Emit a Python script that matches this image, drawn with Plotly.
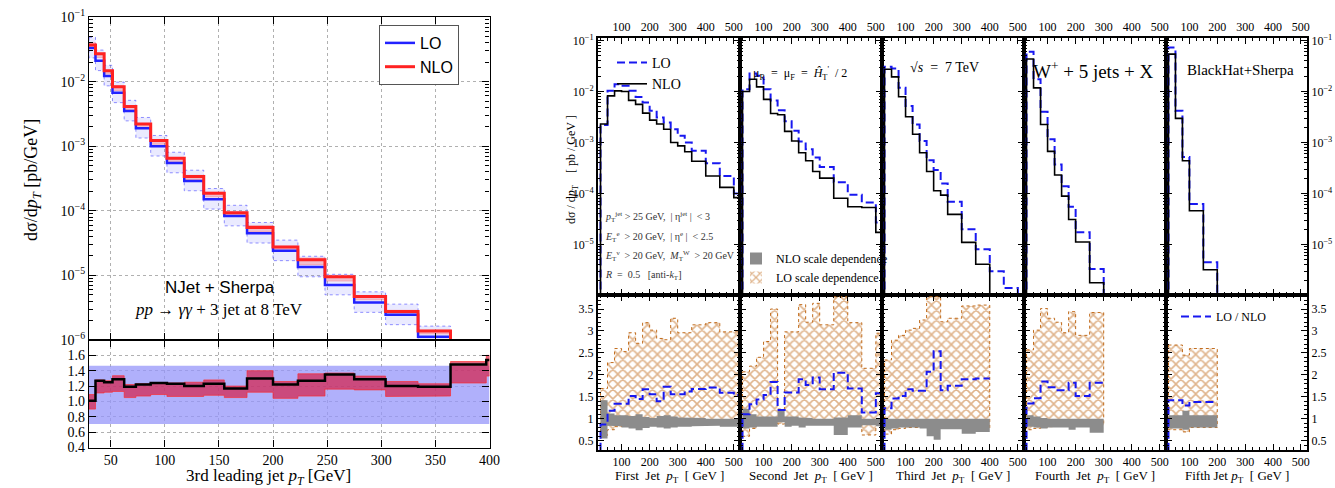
import plotly.graph_objects as go

W, H = 1335, 488
SERIF = "Liberation Serif"
SANS = "Liberation Sans"

# ---------------- left figure: NJet + Sherpa ----------------
L_EDGES = [30, 36, 44, 51.7, 62.5, 73.3, 87, 102, 118, 136, 155, 176, 200, 223, 248, 275, 304, 334, 364, 397, 400]
L_NLO = [0.037, 0.027, 0.0147, 0.0083, 0.0041, 0.0022, 0.00122, 0.00065, 0.00034, 0.000187,
         9.3e-5, 5.5e-5, 2.75e-5, 1.74e-5, 9.5e-6, 4.7e-6, 2.75e-6, 1.38e-6, 7.5e-7, 6.5e-7]
L_LO = [0.033, 0.021, 0.0122, 0.0067, 0.0035, 0.0019, 0.00100, 0.00055, 0.00029, 0.000151,
        8.3e-5, 4.5e-5, 2.4e-5, 1.35e-5, 7.1e-6, 3.8e-6, 2.45e-6, 1.12e-6, 5.1e-7, 4.3e-7]
L_K = [1.01, 1.27, 1.25, 1.29, 1.19, 1.22, 1.24, 1.23, 1.20, 1.23, 1.17, 1.30, 1.22, 1.27, 1.35, 1.29, 1.20, 1.19, 1.48, 1.54]
L_K_HI = [1.09, 1.28, 1.27, 1.335, 1.22, 1.23, 1.24, 1.24, 1.25, 1.28, 1.20, 1.40, 1.26, 1.36, 1.37, 1.33, 1.26, 1.23, 1.52, 1.60]
L_K_LO = [0.90, 1.11, 1.12, 1.13, 1.05, 1.07, 1.09, 1.065, 1.065, 1.08, 1.05, 1.12, 1.04, 1.07, 1.16, 1.15, 1.065, 1.07, 1.24, 1.33]
LO_SCALE_UP = 1.465
LO_SCALE_DN = 0.705

# ---------------- right figure: BlackHat + Sherpa W+5 jets ----------------
P1_EDGES = [25, 50, 75, 100, 125, 150, 175, 200, 225, 250, 275, 300, 325, 350, 400, 450, 500, 525]
P1_NLO = [2.3e-3, 8.2e-3, 1.03e-2, 1.0e-2, 6.7e-3, 5.6e-3, 3.76e-3, 2.75e-3, 2.3e-3, 1.82e-3, 1.0e-3, 8.6e-4, 6.6e-4, 4.3e-4, 2.2e-4, 1.32e-4, 8.3e-5]
P1_LO = [2.2e-3, 1.03e-2, 1.39e-2, 1.29e-2, 1.03e-2, 7.8e-3, 6.1e-3, 4.2e-3, 3.1e-3, 2.46e-3, 1.82e-3, 1.35e-3, 1.0e-3, 6.9e-4, 3.9e-4, 2.2e-4, 1.0e-4]
P1_RATIO = [0.87, 1.18, 1.34, 1.34, 1.52, 1.45, 1.67, 1.56, 1.40, 1.73, 1.56, 1.56, 1.62, 1.68, 1.71, 1.59, 1.54]
P1_LOBAND_UP = [1.69, 2.28, 2.6, 2.53, 2.96, 2.72, 3.19, 3.02, 2.83, 2.8, 3.29, 2.96, 2.96, 3.14, 3.19, 2.98, 2.98]
P1_LOBAND_DN = [0.62, 0.75, 0.82, 0.85, 0.88, 0.85, 0.9, 0.9, 0.88, 0.85, 0.88, 0.9, 0.92, 0.92, 0.9, 0.9, 0.88]
P1_NLOBAND_UP = [1.42, 1.12, 1.08, 1.08, 1.06, 1.1, 1.04, 1.02, 1.06, 1.08, 1.05, 1.03, 1.03, 1.02, 1.0, 1.0, 1.0]
P1_NLOBAND_DN = [0.55, 0.84, 0.83, 0.8, 0.78, 0.74, 0.79, 0.82, 0.8, 0.78, 0.8, 0.82, 0.82, 0.83, 0.84, 0.82, 0.82]

P2_EDGES = [25, 50, 75, 100, 125, 150, 175, 200, 225, 250, 275, 300, 325, 350, 400, 450, 500, 525]
P2_NLO = [1.0e-2, 1.74e-2, 1.23e-2, 7.0e-3, 3.7e-3, 3.5e-3, 1.65e-3, 1.07e-3, 6.3e-4, 4.4e-4, 2.7e-4, 2.0e-4, 2.0e-4, 8.1e-5, 5.5e-5, 5.3e-5, 1.73e-5]
P2_LO = [1.11e-2, 2.25e-2, 2.03e-2, 1.11e-2, 6.7e-3, 4.3e-3, 2.6e-3, 1.7e-3, 1.05e-3, 7.4e-4, 5.1e-4, 3.3e-4, 3.3e-4, 1.66e-4, 9.5e-5, 6.7e-5, 2.7e-5]
P2_RATIO = [1.1, 1.33, 1.44, 1.54, 1.84, 1.2, 1.6, 1.6, 1.9, 1.77, 1.94, 1.67, 1.67, 2.05, 1.69, 1.14, 1.58]
P2_LOBAND_UP = [2.07, 2.2, 2.4, 2.76, 3.5, 1.22, 2.98, 2.98, 3.6, 3.2, 3.63, 3.14, 3.14, 3.78, 3.19, 2.15, 2.95]
P2_LOBAND_DN = [0.6, 0.78, 0.85, 0.88, 0.9, 0.88, 0.9, 0.88, 0.88, 0.9, 0.9, 0.88, 0.9, 0.9, 0.9, 0.63, 0.85]
P2_NLOBAND_UP = [1.23, 1.1, 1.05, 1.05, 1.05, 1.2, 1.05, 1.05, 1.03, 1.02, 1.0, 1.0, 1.0, 1.03, 1.08, 1.0, 1.02]
P2_NLOBAND_DN = [0.78, 0.8, 0.82, 0.82, 0.82, 0.92, 0.82, 0.84, 0.8, 0.84, 0.83, 0.84, 0.84, 0.63, 0.8, 0.85, 0.83]

P3_EDGES = [25, 50, 75, 100, 125, 150, 175, 200, 225, 250, 300, 350, 400, 450, 500]
P3_NLO = [0.0274, 0.0194, 7.9e-3, 3.2e-3, 1.45e-3, 6.3e-4, 2.7e-4, 1.13e-4, 9.3e-5, 3.9e-5, 1.1e-5, 4.1e-6]
P3_LO = [0.0305, 0.0283, 0.0118, 5.2e-3, 2.25e-3, 1.07e-3, 4.5e-4, 2.9e-4, 1.58e-4, 6.9e-5, 2.0e-5, 8.1e-6, 3.0e-6, 1.4e-6]
P3_RATIO = [1.24, 1.46, 1.52, 1.67, 1.64, 1.64, 2.07, 2.54, 1.65, 1.75, 1.9, 1.92]
P3_LOBAND_UP = [2.34, 2.79, 2.9, 3.02, 3.06, 3.25, 3.78, 3.78, 3.21, 3.29, 3.57, 3.59]
P3_LOBAND_DN = [0.65, 0.75, 0.78, 0.8, 0.8, 0.8, 0.8, 0.8, 0.78, 0.78, 0.8, 0.78]
P3_NLOBAND_UP = [1.0, 1.0, 1.0, 1.0, 1.0, 1.0, 1.0, 1.0, 1.0, 1.0, 1.0, 1.0]
P3_NLOBAND_DN = [0.75, 0.78, 0.8, 0.8, 0.8, 0.78, 0.6, 0.52, 0.76, 0.76, 0.66, 0.7]

P4_EDGES = [25, 50, 75, 100, 125, 150, 175, 200, 250, 300]
P4_NLO = [0.0434, 0.0118, 2.25e-3, 6.7e-4, 2.3e-4, 8.9e-5, 3.1e-5, 1.12e-5, 1.78e-6]
P4_LO = [0.060, 0.0174, 4.0e-3, 1.16e-3, 3.7e-4, 1.38e-4, 5.5e-5, 1.73e-5, 3.3e-6]
P4_RATIO = [1.35, 1.47, 1.85, 1.72, 1.65, 1.65, 1.82, 1.52, 1.82]
P4_LOBAND_UP = [2.57, 3.02, 3.51, 3.29, 3.2, 2.96, 3.44, 2.9, 3.42]
P4_LOBAND_DN = [0.75, 0.78, 0.8, 0.82, 0.85, 0.85, 0.82, 0.85, 0.85]
P4_NLOBAND_UP = [1.08, 1.05, 1.02, 1.0, 1.0, 1.0, 1.0, 1.0, 1.0]
P4_NLOBAND_DN = [0.82, 0.8, 0.78, 0.8, 0.8, 0.8, 0.75, 0.8, 0.68]

P5_EDGES = [25, 50, 75, 100, 150, 200]
P5_NLO = [0.054, 2.97e-3, 4.4e-4, 4.6e-5, 3.2e-6]
P5_LO = [0.073, 4.2e-3, 5.2e-4, 6.2e-5, 4.5e-6]
P5_RATIO = [1.42, 1.42, 1.3, 1.38, 1.38]
P5_LOBAND_UP = [2.68, 2.68, 2.45, 2.6, 2.6]
P5_LOBAND_DN = [0.75, 0.75, 0.7, 0.8, 0.8]
P5_NLOBAND_UP = [1.08, 1.08, 1.18, 1.08, 1.08]
P5_NLOBAND_DN = [0.78, 0.78, 0.75, 0.8, 0.8]

PANEL_TITLES = ["First  Jet  <i>p</i><sub>T</sub>  [ GeV ]", "Second  Jet  <i>p</i><sub>T</sub>  [ GeV ]",
                "Third  Jet  <i>p</i><sub>T</sub>  [ GeV ]", "Fourth  Jet  <i>p</i><sub>T</sub>  [ GeV ]",
                "Fifth Jet <i>p</i><sub>T</sub>  [ GeV ]"]

LOG_FLOOR = 1e-8
RATIO_FLOOR = 0.0


def steps(edges, vals, start=None, end=None):
    xs, ys = [], []
    if start is not None:
        xs.append(edges[0]); ys.append(start)
    for i, v in enumerate(vals):
        xs += [edges[i], edges[i + 1]]
        ys += [v, v]
    if end is not None:
        xs.append(edges[len(vals)]); ys.append(end)
    return xs, ys


def band(edges, lo, hi):
    xs, ys = [], []
    for i in range(len(lo)):
        xs += [edges[i], edges[i + 1]]
        ys += [hi[i], hi[i]]
    for i in reversed(range(len(lo))):
        xs += [edges[i + 1], edges[i]]
        ys += [lo[i], lo[i]]
    xs.append(xs[0]); ys.append(ys[0])
    return xs, ys


fig = go.Figure()

# ---- left top panel ----
n = len(L_LO)
bx, by = band(L_EDGES, [v * LO_SCALE_DN for v in L_LO], [v * LO_SCALE_UP for v in L_LO])
fig.add_trace(go.Scatter(x=bx, y=by, xaxis="x", yaxis="y", mode="lines", fill="toself",
                         fillcolor="rgba(90,90,255,0.13)", line=dict(color="rgba(60,60,255,0.7)", width=0.8, dash="dot"),
                         showlegend=False, hoverinfo="skip"))
bx, by = band(L_EDGES, [L_NLO[i] * L_K_LO[i] / L_K[i] for i in range(n)], [L_NLO[i] * L_K_HI[i] / L_K[i] for i in range(n)])
fig.add_trace(go.Scatter(x=bx, y=by, xaxis="x", yaxis="y", mode="lines", fill="toself",
                         fillcolor="rgba(255,60,60,0.25)", line=dict(color="rgba(255,80,80,0.5)", width=0.6),
                         showlegend=False, hoverinfo="skip"))
sx, sy = steps(L_EDGES, L_LO)
fig.add_trace(go.Scatter(x=sx, y=sy, xaxis="x", yaxis="y", mode="lines", name="LO",
                         line=dict(color="#2222ff", width=2.5), legend="legend"))
sx, sy = steps(L_EDGES, L_NLO)
fig.add_trace(go.Scatter(x=sx, y=sy, xaxis="x", yaxis="y", mode="lines", name="NLO",
                         line=dict(color="#ff2222", width=3), legend="legend"))

# ---- left ratio panel ----
bx, by = band(L_EDGES, [LO_SCALE_DN] * n, [LO_SCALE_UP] * n)
fig.add_trace(go.Scatter(x=bx, y=by, xaxis="x2", yaxis="y2", mode="lines", fill="toself",
                         fillcolor="rgba(150,150,250,0.75)", line=dict(width=0),
                         showlegend=False, hoverinfo="skip"))
bx, by = band(L_EDGES, L_K_LO, L_K_HI)
fig.add_trace(go.Scatter(x=bx, y=by, xaxis="x2", yaxis="y2", mode="lines", fill="toself",
                         fillcolor="rgba(215,25,65,0.68)", line=dict(color="rgba(255,40,40,0.8)", width=0.8),
                         showlegend=False, hoverinfo="skip"))
sx, sy = steps(L_EDGES, L_K)
fig.add_trace(go.Scatter(x=sx, y=sy, xaxis="x2", yaxis="y2", mode="lines",
                         line=dict(color="black", width=2.5), showlegend=False))

# ---- right panels ----
PANELS = [
    (P1_EDGES, P1_NLO, P1_LO, P1_RATIO, P1_LOBAND_UP, P1_LOBAND_DN, P1_NLOBAND_UP, P1_NLOBAND_DN),
    (P2_EDGES, P2_NLO, P2_LO, P2_RATIO, P2_LOBAND_UP, P2_LOBAND_DN, P2_NLOBAND_UP, P2_NLOBAND_DN),
    (P3_EDGES, P3_NLO, P3_LO, P3_RATIO, P3_LOBAND_UP, P3_LOBAND_DN, P3_NLOBAND_UP, P3_NLOBAND_DN),
    (P4_EDGES, P4_NLO, P4_LO, P4_RATIO, P4_LOBAND_UP, P4_LOBAND_DN, P4_NLOBAND_UP, P4_NLOBAND_DN),
    (P5_EDGES, P5_NLO, P5_LO, P5_RATIO, P5_LOBAND_UP, P5_LOBAND_DN, P5_NLOBAND_UP, P5_NLOBAND_DN),
]
BLUE = "#1818f0"
HATCH = "#c06a1a"
GRAY = "#8c8c8c"
HATCH_PATTERN = dict(shape="x", fgcolor=HATCH, bgcolor="rgba(255,255,255,0)", size=7, solidity=0.4)
for i, (edges, nlo, lo, ratio, lup, ldn, nup, ndn) in enumerate(PANELS):
    xt, yt = "x%d" % (3 + 2 * i), "y%d" % (3 + 2 * i)
    xb, yb = "x%d" % (4 + 2 * i), "y%d" % (4 + 2 * i)
    sx, sy = steps(edges, lo, LOG_FLOOR, LOG_FLOOR)
    fig.add_trace(go.Scatter(x=sx, y=sy, xaxis=xt, yaxis=yt, mode="lines", name="LO",
                             line=dict(color=BLUE, width=2, dash="8px,4px"),
                             showlegend=(i == 0), legend="legend2"))
    sx, sy = steps(edges, nlo, LOG_FLOOR, LOG_FLOOR)
    fig.add_trace(go.Scatter(x=sx, y=sy, xaxis=xt, yaxis=yt, mode="lines", name="NLO",
                             line=dict(color="black", width=1.6),
                             showlegend=(i == 0), legend="legend2"))
    bx, by = band(edges, ldn, lup)
    fig.add_trace(go.Scatter(x=bx, y=by, xaxis=xb, yaxis=yb, mode="lines", fill="toself",
                             fillcolor="rgba(0,0,0,0)", fillpattern=HATCH_PATTERN,
                             line=dict(color=HATCH, width=1, dash="dot"),
                             showlegend=False, hoverinfo="skip"))
    bx, by = band(edges, ndn, nup)
    fig.add_trace(go.Scatter(x=bx, y=by, xaxis=xb, yaxis=yb, mode="lines", fill="toself",
                             fillcolor=GRAY, line=dict(width=0, color=GRAY),
                             showlegend=False, hoverinfo="skip"))
    sx, sy = steps(edges, ratio, RATIO_FLOOR, None)
    fig.add_trace(go.Scatter(x=sx, y=sy, xaxis=xb, yaxis=yb, mode="lines", name="LO / NLO",
                             line=dict(color=BLUE, width=2, dash="8px,4px"),
                             showlegend=(i == 4), legend="legend4"))

# legend keys for the scale-dependence bands
fig.add_trace(go.Bar(x=[None], y=[None], xaxis="x6", yaxis="y6", name="NLO scale dependence",
                     marker=dict(color=GRAY, line=dict(width=0)), legend="legend3"))
fig.add_trace(go.Bar(x=[None], y=[None], xaxis="x6", yaxis="y6", name="LO scale dependence",
                     marker=dict(color="rgba(0,0,0,0)", line=dict(width=0), pattern=HATCH_PATTERN), legend="legend3"))

layout = dict(
    width=W, height=H, margin=dict(l=0, r=0, t=0, b=0, autoexpand=False),
    paper_bgcolor="white", plot_bgcolor="rgba(0,0,0,0)",
    font=dict(family=SERIF, color="black"),
)


def px(x):
    return x / W


def py(y):
    return 1 - y / H


LOG_MINOR = [m * 10.0 ** e for e in range(-7, 0) for m in range(2, 10)]
DECADES = [10.0 ** e for e in range(-6, 0)]
DEC_TEXT = ["10<sup>\u2212%d</sup>" % k for k in range(6, 0, -1)]

common_left = dict(showline=True, linecolor="black", linewidth=1.3, mirror="allticks", ticks="inside",
                   ticklen=7, tickcolor="black", zeroline=False, automargin=False,
                   showgrid=True, gridcolor="#b0b0b0", griddash="dot", gridwidth=1,
                   tickfont=dict(family=SERIF, size=14))
layout["xaxis"] = dict(common_left, domain=[px(89), px(489.5)], range=[30, 400], anchor="y",
                       tickvals=[50, 100, 150, 200, 250, 300, 350, 400], showticklabels=False)
layout["yaxis"] = dict(common_left, domain=[py(340), py(17)], type="log", range=[-6, -1], anchor="x",
                       tickvals=DECADES, ticktext=DEC_TEXT,
                       minor=dict(ticks="inside", ticklen=4, tickcolor="black", tickvals=LOG_MINOR, showgrid=False))
layout["xaxis2"] = dict(common_left, domain=[px(89), px(489.5)], range=[30, 400], anchor="y2", matches="x",
                        tickvals=[50, 100, 150, 200, 250, 300, 350, 400])
layout["yaxis2"] = dict(common_left, domain=[py(447.5), py(340)], range=[0.4, 1.8], anchor="x2",
                        tickvals=[0.4, 0.6, 0.8, 1.0, 1.2, 1.4, 1.6], tickformat=".1f")

BOUNDS = [598, 740, 882, 1024, 1166, 1307]
DEC_R = [10.0 ** e for e in range(-5, 0)]
DEC_R_TEXT = ["10<sup>\u2212%d</sup>" % k for k in range(5, 0, -1)]
common_right = dict(showline=True, linecolor="black", linewidth=2, mirror="allticks", ticks="inside",
                    ticklen=6, tickcolor="black", tickwidth=1.2, zeroline=False, showgrid=False, automargin=False,
                    tickfont=dict(family=SERIF, size=12))
for i in range(5):
    dom = [px(BOUNDS[i]), px(BOUNDS[i + 1])]
    xt, yt, xb, yb = 3 + 2 * i, 3 + 2 * i, 4 + 2 * i, 4 + 2 * i
    layout["xaxis%d" % xt] = dict(common_right, domain=dom, range=[16, 522], anchor="y%d" % yt, side="top",
                                  tickvals=[100, 200, 300, 400, 500],
                                  minor=dict(ticks="inside", ticklen=3, tickcolor="black", dtick=25, tick0=0))
    layout["xaxis%d" % xb] = dict(common_right, domain=dom, range=[16, 522], anchor="y%d" % yb, side="bottom",
                                  tickvals=[100, 200, 300, 400, 500], matches="x%d" % xt,
                                  minor=dict(ticks="inside", ticklen=3, tickcolor="black", dtick=25, tick0=0))
    ylog = dict(common_right, domain=[py(295), py(37.7)], type="log", range=[-5.99, -0.945],
                anchor="x%d" % xt, tickvals=DEC_R, ticktext=DEC_R_TEXT,
                minor=dict(ticks="inside", ticklen=3, tickcolor="black", tickvals=LOG_MINOR))
    ylin = dict(common_right, domain=[py(450), py(295)], range=[0.288, 3.82], anchor="x%d" % xb,
                tickvals=[0.5, 1, 1.5, 2, 2.5, 3, 3.5],
                minor=dict(ticks="inside", ticklen=3, tickcolor="black", dtick=0.1, tick0=0))
    if i == 0:
        ylog["side"] = "left"; ylin["side"] = "left"
    elif i == 4:
        ylog["side"] = "right"; ylin["side"] = "right"
    else:
        ylog["showticklabels"] = False; ylin["showticklabels"] = False
    layout["yaxis%d" % yt] = ylog
    layout["yaxis%d" % yb] = ylin

layout["legend"] = dict(x=px(379), y=py(25), xanchor="left", yanchor="top", bgcolor="white",
                        bordercolor="#555", borderwidth=1, font=dict(family=SANS, size=16))
layout["legend2"] = dict(x=px(612), y=py(47), xanchor="left", yanchor="top", bgcolor="rgba(0,0,0,0)",
                         font=dict(family=SERIF, size=14))
layout["legend3"] = dict(x=px(736), y=py(244), xanchor="left", yanchor="top", bgcolor="rgba(0,0,0,0)",
                         font=dict(family=SERIF, size=12), itemwidth=30)
layout["legend4"] = dict(x=px(1176), y=py(302), xanchor="left", yanchor="top", bgcolor="rgba(0,0,0,0)",
                         font=dict(family=SERIF, size=12))

ann = []


def A(x, y, text, size, family=SERIF, xanchor="center", angle=0, color="black"):
    ann.append(dict(x=px(x), y=py(y), xref="paper", yref="paper", text=text, showarrow=False,
                    xanchor=xanchor, yanchor="middle", textangle=angle,
                    font=dict(family=family, size=size, color=color)))


A(220, 287, "NJet + Sherpa", 17, SANS)
A(219, 309, "<i>pp</i> \u2192 <i>\u03b3\u03b3</i> + 3 jet at 8 TeV", 17)
A(32, 180, "d\u03c3/d<i>p<sub>T</sub></i> [pb/GeV]", 18, angle=-90)
A(268, 477, "3rd leading jet <i>p<sub>T</sub></i> [GeV]", 17)

A(572, 170, "d\u03c3 / d<i>p</i><sub>T</sub>    [ pb / GeV ]", 12, angle=-90)
for i in range(5):
    A((BOUNDS[i] + BOUNDS[i + 1]) / 2, 476, PANEL_TITLES[i], 13)

CUTS = ["<i>p</i><sub>T</sub><sup>jet</sup> > 25 GeV,  | \u03b7<sup>jet</sup> |  < 3",
        "<i>E</i><sub>T</sub><sup>e</sup>  > 20 GeV,  | \u03b7<sup>e</sup> |  < 2.5",
        "<i>E</i><sub>T</sub><sup>\u03bd</sup>  > 20 GeV,  <i>M</i><sub>T</sub><sup>W</sup>  > 20 GeV",
        "<i>R</i>  =  0.5   [anti-<i>k</i><sub>T</sub>]"]
for k, t in enumerate(CUTS):
    A(603, 217 + 19.5 * k, t, 10, xanchor="left", color="#333")

A(751, 73, "\u03bc<sub>R</sub>  =  \u03bc<sub>F</sub>  =  <i>\u0124</i><sub>T</sub><sup>'</sup>  / 2", 12, xanchor="left")
A(908, 67, "\u221a<i>s</i>  =  7 TeV", 14, xanchor="left")
A(1031, 70, "W<sup>+</sup> + 5 jets + X", 19, xanchor="left")
A(1185, 70, "BlackHat+Sherpa", 15, xanchor="left")

layout["annotations"] = ann
fig.update_layout(**layout)
fig.write_html("out.html", config={"displayModeBar": False},
               post_script="document.body.style.margin='0px';document.body.style.overflow='hidden';")
